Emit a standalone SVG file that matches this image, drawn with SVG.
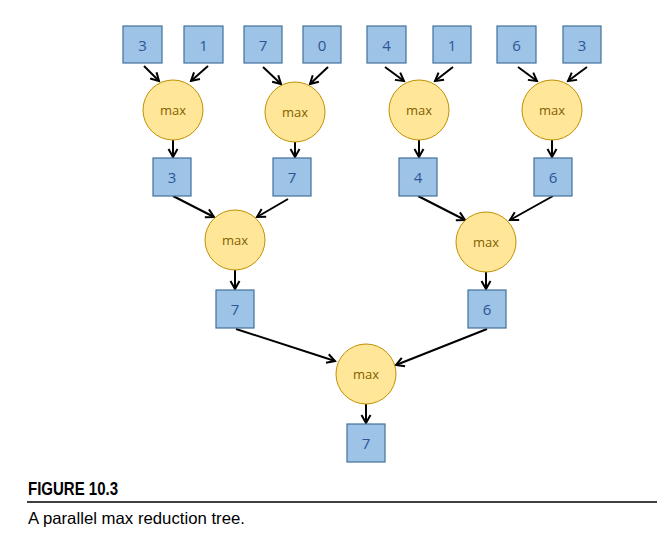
<svg xmlns="http://www.w3.org/2000/svg" width="657" height="539" viewBox="0 0 657 539">
<style>
.box{fill:#9DC3E6;stroke:#41719C;stroke-width:1.2}
.op{fill:#FFE699;stroke:#BF9000;stroke-width:1}
.num{font-family:"Open Sans","Liberation Sans",sans-serif;font-size:15px;fill:#2F5597;text-anchor:middle;dominant-baseline:central}
.mx{font-family:"Open Sans","Liberation Sans",sans-serif;font-size:13px;fill:#7F6000;text-anchor:middle;dominant-baseline:central}
.edge{stroke:#000;stroke-width:2;fill:none;marker-end:url(#arr)}
.cap{font-family:"Liberation Sans",Arial,sans-serif;fill:#000}
</style>
<defs>
<marker id="arr" markerUnits="userSpaceOnUse" markerWidth="12" markerHeight="12" viewBox="0 0 12 12" refX="10" refY="6" orient="auto">
<path d="M2,1.5 L10,6 L2,10.5" stroke="#000" stroke-width="2" fill="none"/>
</marker>
</defs>
<rect width="657" height="539" fill="#fff"/>
<g id="connectors">
<line class="edge" x1="144" y1="66" x2="159" y2="81"/>
<line class="edge" x1="208" y1="66" x2="191" y2="81"/>
<line class="edge" x1="263" y1="67" x2="281" y2="84"/>
<line class="edge" x1="328" y1="67" x2="310" y2="84"/>
<line class="edge" x1="385" y1="67" x2="404" y2="81"/>
<line class="edge" x1="453" y1="67" x2="435" y2="81"/>
<line class="edge" x1="518" y1="67" x2="537" y2="81"/>
<line class="edge" x1="587" y1="67" x2="568" y2="81"/>
<line class="edge" x1="173" y1="140" x2="173" y2="157"/>
<line class="edge" x1="295" y1="142" x2="295" y2="157"/>
<line class="edge" x1="419" y1="140" x2="419" y2="157"/>
<line class="edge" x1="552" y1="140" x2="552" y2="157"/>
<line class="edge" x1="173" y1="196" x2="214" y2="217"/>
<line class="edge" x1="288" y1="199" x2="257" y2="217"/>
<line class="edge" x1="418" y1="196" x2="465" y2="220"/>
<line class="edge" x1="553" y1="196" x2="510" y2="220"/>
<line class="edge" x1="235" y1="270" x2="235" y2="289"/>
<line class="edge" x1="486" y1="272" x2="486" y2="289"/>
<line class="edge" x1="236" y1="329" x2="335" y2="361"/>
<line class="edge" x1="487" y1="329" x2="396" y2="365"/>
<line class="edge" x1="366" y1="404" x2="366" y2="423"/>
</g>
<g id="in0"><rect class="box" x="123" y="26" width="39" height="37"/><text class="num" x="142.5" y="44.5">3</text></g>
<g id="in1"><rect class="box" x="184" y="26" width="39" height="37"/><text class="num" x="203.5" y="44.5">1</text></g>
<g id="in2"><rect class="box" x="244" y="26" width="38" height="37"/><text class="num" x="263" y="44.5">7</text></g>
<g id="in3"><rect class="box" x="303" y="26" width="38" height="37"/><text class="num" x="322" y="44.5">0</text></g>
<g id="in4"><rect class="box" x="367" y="26" width="39" height="37"/><text class="num" x="386.5" y="44.5">4</text></g>
<g id="in5"><rect class="box" x="433" y="26" width="38" height="37"/><text class="num" x="452" y="44.5">1</text></g>
<g id="in6"><rect class="box" x="497" y="26" width="39" height="37"/><text class="num" x="516.5" y="44.5">6</text></g>
<g id="in7"><rect class="box" x="563" y="26" width="38" height="37"/><text class="num" x="582" y="44.5">3</text></g>
<g id="max1a"><circle class="op" cx="173" cy="110" r="30"/><text class="mx" x="173" y="110">max</text></g>
<g id="max1b"><circle class="op" cx="295" cy="112" r="30"/><text class="mx" x="295" y="112">max</text></g>
<g id="max1c"><circle class="op" cx="419" cy="110" r="30"/><text class="mx" x="419" y="110">max</text></g>
<g id="max1d"><circle class="op" cx="552" cy="110" r="30"/><text class="mx" x="552" y="110">max</text></g>
<g id="r1a"><rect class="box" x="153" y="158" width="38" height="38"/><text class="num" x="172" y="177">3</text></g>
<g id="r1b"><rect class="box" x="273" y="158" width="38" height="38"/><text class="num" x="292" y="177">7</text></g>
<g id="r1c"><rect class="box" x="399" y="158" width="38" height="38"/><text class="num" x="418" y="177">4</text></g>
<g id="r1d"><rect class="box" x="534" y="158" width="38" height="38"/><text class="num" x="553" y="177">6</text></g>
<g id="max2a"><circle class="op" cx="235" cy="240" r="30"/><text class="mx" x="235" y="240">max</text></g>
<g id="max2b"><circle class="op" cx="486" cy="242" r="30"/><text class="mx" x="486" y="242">max</text></g>
<g id="r2a"><rect class="box" x="216" y="290" width="38" height="38"/><text class="num" x="235" y="309">7</text></g>
<g id="r2b"><rect class="box" x="468" y="290" width="38" height="38"/><text class="num" x="487" y="309">6</text></g>
<g id="max3"><circle class="op" cx="366" cy="374" r="30"/><text class="mx" x="366" y="374">max</text></g>
<g id="result"><rect class="box" x="347" y="424" width="38" height="38"/><text class="num" x="366" y="443">7</text></g>
<g id="caption">
<text class="cap" x="28" y="495" font-size="18" font-weight="bold" textLength="90" lengthAdjust="spacingAndGlyphs">FIGURE 10.3</text>
<line x1="27" y1="502" x2="657" y2="502" stroke="#000" stroke-width="1.5"/>
<text class="cap" x="28" y="524" font-size="16.5" textLength="217" lengthAdjust="spacingAndGlyphs">A parallel max reduction tree.</text>
</g>
</svg>
